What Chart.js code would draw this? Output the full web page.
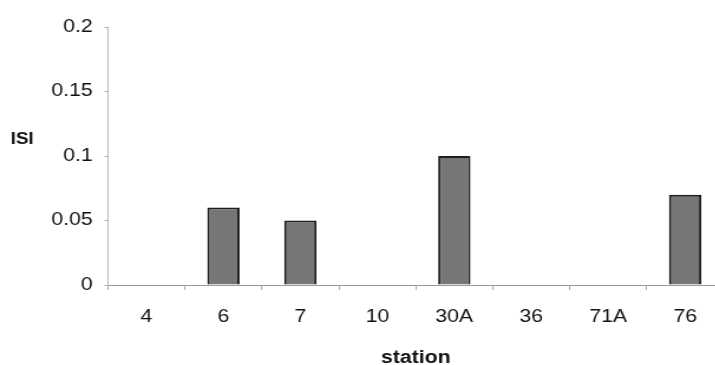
<!DOCTYPE html>
<html>
<head>
<meta charset="utf-8">
<script src="https://cdn.jsdelivr.net/npm/chart.js@4"></script>
<style>
  html, body { margin: 0; padding: 0; background: #fff; overflow: hidden; }
  #chart { display: block; }
</style>
</head>
<body>
<!-- the source picture is stretched sideways, so the canvas is drawn narrow
     and widened with an inline style (Chart.js keeps inline sizes) -->
<canvas id="chart" width="615" height="365" style="width:726px;height:365px"></canvas>
<script>
const stations = ['4', '6', '7', '10', '30A', '36', '71A', '76'];
const isi = [0, 0.06, 0.05, 0, 0.1, 0, 0, 0.07];
const yTicks = [0, 0.05, 0.1, 0.15, 0.2];

const FONT = "'Liberation Sans', Arial, sans-serif";

// horizontal "ISI" label left of the y axis
const yLabel = {
  id: 'yLabel',
  afterDraw(chart) {
    const ctx = chart.ctx;
    ctx.save();
    ctx.font = 'bold 16px ' + FONT;
    ctx.fillStyle = '#111';
    ctx.textAlign = 'left';
    ctx.textBaseline = 'middle';
    ctx.fillText('ISI', 9, 140);
    ctx.restore();
  }
};

new Chart(document.getElementById('chart'), {
  type: 'bar',
  data: {
    labels: stations,
    datasets: [{
      data: isi,
      backgroundColor: '#767676',
      borderColor: '#1e1e1e',
      borderWidth: 2,
      borderSkipped: 'bottom',
      categoryPercentage: 1,
      barPercentage: 0.42
    }]
  },
  options: {
    responsive: false,
    devicePixelRatio: 1,
    animation: false,
    layout: { padding: { left: 0, right: 2, top: 27, bottom: 0 } },
    plugins: { legend: { display: false }, tooltip: { enabled: false } },
    scales: {
      x: {
        grid: { display: true, drawOnChartArea: false, offset: true, tickLength: 5, color: '#aaa' },
        border: { color: '#999', width: 1 },
        ticks: { color: '#111', font: { family: FONT, size: 18 }, padding: 16, maxRotation: 0 },
        title: { display: true, text: 'station', color: '#111', font: { family: FONT, size: 18, weight: 'bold', lineHeight: 0.75 }, padding: 0 },
        afterFit: (s) => { s.height = 80; }
      },
      y: {
        min: 0,
        max: 0.2,
        afterBuildTicks: (s) => { s.ticks = yTicks.map(v => ({ value: v })); },
        grid: { display: true, drawOnChartArea: false, tickLength: 3, color: '#aaa' },
        border: { color: '#bbb', width: 1 },
        ticks: { color: '#111', font: { family: FONT, size: 18 }, padding: 10, callback: (v) => String(v) },
        afterFit: (s) => { s.width = 91.5; }
      }
    }
  },
  plugins: [yLabel]
});
</script>
</body>
</html>
